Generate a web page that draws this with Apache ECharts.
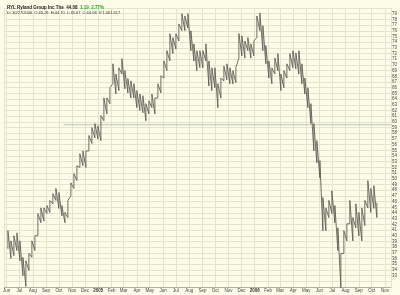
<!DOCTYPE html>
<html><head><meta charset="utf-8">
<script src="https://cdn.jsdelivr.net/npm/echarts@6/dist/echarts.min.js"></script>
<style>html,body{margin:0;padding:0;background:#FCFCE8}#c{width:400px;height:295px}</style>
</head><body><div id="c"></div>
<script>
// weekly bars (Friday dates)
const firstWeek = '2004-06-04';
const highs = [40.9,39.1,40.0,40.5,39.1,36.2,35.6,36.9,39.1,40.0,
43.9,44.9,44.9,45.3,46.2,47.4,48.3,47.6,45.3,44.1,
46.2,49.3,50.9,52.3,54.4,54.9,54.9,57.6,59.0,59.7,
59.3,61.1,64.2,64.2,66.0,70.2,68.4,69.5,71.1,69.0,
67.6,67.2,66.7,65.5,64.9,64.6,63.2,63.7,64.9,64.2,
66.7,68.1,70.7,72.5,75.5,74.8,75.5,77.2,79.0,78.6,
79.0,76.0,73.7,72.5,72.5,72.5,73.7,70.7,69.5,69.5,
66.7,67.7,69.8,70.2,69.5,69.0,69.5,75.5,75.1,74.2,
74.8,73.7,74.2,78.6,79.1,76.9,73.4,70.7,69.5,71.2,
72.0,68.4,69.0,70.2,72.0,72.5,72.1,72.5,70.2,67.7,
66.0,63.2,59.7,56.7,53.2,46.7,44.9,46.2,47.9,45.3,
41.4,36.9,40.9,42.1,46.2,43.2,45.6,44.1,44.9,46.2,
49.7,48.3,48.8,45.8];
const lows = [37.7,36.0,36.5,37.4,35.6,33.0,31.1,33.9,36.2,37.4,
40.0,42.3,42.6,43.9,44.1,45.6,46.2,44.8,43.5,42.3,
43.2,47.0,48.3,49.7,52.0,52.3,52.0,54.9,56.2,57.2,
57.0,56.7,60.2,61.4,63.2,66.7,64.9,65.5,68.4,65.8,
65.1,64.2,64.2,62.5,62.0,61.6,60.2,61.4,62.5,61.4,
64.2,65.1,67.7,69.0,70.7,72.0,72.8,74.2,76.0,76.0,
76.5,72.5,70.7,69.0,69.5,69.5,70.7,66.3,65.5,66.0,
62.5,64.2,67.2,67.4,66.7,66.7,66.9,71.2,71.6,71.2,
72.5,71.2,71.6,74.8,76.0,72.5,70.2,67.7,66.7,68.4,
69.0,65.5,66.0,67.7,69.0,69.5,69.3,68.4,66.7,64.9,
62.5,59.7,54.9,52.8,50.2,40.9,40.9,43.2,43.9,42.3,
37.4,30.9,36.9,39.1,42.1,39.1,41.4,40.0,39.1,41.8,
44.9,44.1,44.8,43.2];
const refLineValue = 59.5;
const refLineStart = '2004-10-12';
const monthNames = ['Jan','Feb','Mar','Apr','May','Jun','Jul','Aug','Sep','Oct','Nov','Dec'];

const DAY = 86400000;
const t0 = new Date(firstWeek + 'T00:00:00Z').getTime();
const bars = highs.map((h, i) => [t0 + i * 7 * DAY, lows[i], h]);

const chart = echarts.init(document.getElementById('c'), null, {renderer: 'canvas'});
chart.setOption({
  backgroundColor: '#FCFCE8',
  animation: false,
  title: {
    left: 2, top: 0,
    text: '{a|RYL Ryland Group Inc The}  {b|44.08}  {c|1.19  2.77%}',
    subtext: 'D: 10/27/2006  O:43.26  H:44.70  L:43.07  C:44.08  V:1,061,617',
    itemGap: 1,
    textStyle: {fontSize: 4.5, rich: {
      a: {fontSize: 4.5, fontWeight: 'bold', color: '#222', fontFamily: 'Liberation Sans'},
      b: {fontSize: 4.5, fontWeight: 'bold', color: '#222', fontFamily: 'Liberation Sans'},
      c: {fontSize: 4.5, fontWeight: 'bold', color: '#22aa22', fontFamily: 'Liberation Sans'}
    }},
    subtextStyle: {fontSize: 4, color: '#333', fontFamily: 'Liberation Sans'}
  },
  grid: {left: 2, right: 8, top: 8, bottom: 8, containLabel: false},
  xAxis: {
    type: 'time', min: '2004-05-27', max: '2006-11-15',
    splitNumber: 30, minInterval: 28 * DAY, maxInterval: 31 * DAY,
    axisLine: {show: true, lineStyle: {color: '#b0b0a0', width: 1}},
    axisTick: {show: false},
    splitLine: {show: true, lineStyle: {color: '#E4E4CC', width: 1}},
    axisLabel: {
      fontSize: 4.5, color: '#444', margin: 1, fontFamily: 'Liberation Sans',
      hideOverlap: false,
      formatter: function (v) {
        const d = new Date(v);
        if (d.getUTCDate() !== 1) return '';
        if (d.getUTCMonth() === 0) return '{y|' + d.getUTCFullYear() + '}';
        return monthNames[d.getUTCMonth()];
      },
      rich: {y: {fontSize: 4.5, fontWeight: 'bold', color: '#333'}}
    }
  },
  yAxis: {
    type: 'value', position: 'right', min: 31, max: 80, interval: 1,
    axisLine: {show: false}, axisTick: {show: false},
    splitLine: {show: true, lineStyle: {color: '#E4E4CC', width: 1}},
    axisLabel: {
      fontSize: 4.5, color: '#444', margin: 1, fontFamily: 'Liberation Sans',
      formatter: v => (v >= 33 && v <= 79) ? String(v) : ''
    }
  },
  series: [
    {
      type: 'line', silent: true, symbol: 'none',
      data: [[refLineStart, refLineValue], ['2006-11-15', refLineValue]],
      lineStyle: {color: '#b9c4c0', width: 1}, z: 1
    },
    {
      type: 'custom', z: 3,
      data: bars,
      encode: {x: 0, y: [1, 2]},
      renderItem: function (params, api) {
        const i = params.dataIndex;
        const lo = api.coord([bars[i][0], bars[i][1]]);
        const hi = api.coord([bars[i][0], bars[i][2]]);
        const pts = [lo, hi];
        if (i + 1 < bars.length) {
          pts.push(api.coord([bars[i + 1][0], bars[i + 1][1]]));
        }
        return {
          type: 'polyline',
          shape: {points: pts},
          style: {stroke: '#5e5e56', lineWidth: 0.9, fill: null}
        };
      }
    }
  ]
});
</script></body></html>
